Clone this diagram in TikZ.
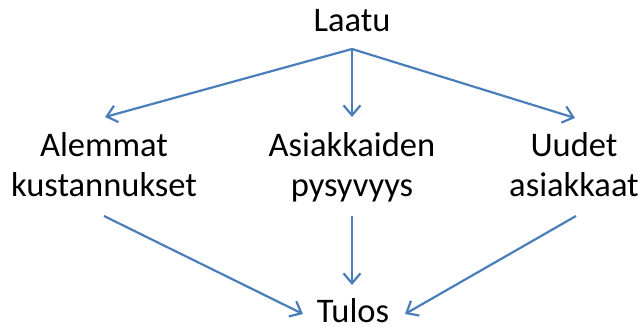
\documentclass[tikz,border=0pt]{standalone}
\usepackage{fontspec}
\setmainfont{Carlito}
\usetikzlibrary{arrows.meta}
\definecolor{arrowblue}{HTML}{4A7EBB}
\tikzset{
  x=1pt, y=1pt,
  lbl/.style={inner sep=0pt, anchor=base, align=center, font=\fontsize{34.5}{40}\selectfont, text=black},
  arr/.style={draw=arrowblue, line width=2.2pt, -{Straight Barb[length=10pt,width=17pt,line width=2.2pt]}}
}
\begin{document}
\begin{tikzpicture}
\useasboundingbox (0,0) rectangle (644,331);
\node[lbl] (laatu) at (352,299) {Laatu};
\node[lbl] (alemmat) at (104,134) {Alemmat\\kustannukset};
\node[lbl] (asiak) at (352,134) {Asiakkaiden\\pysyvyys};
\node[lbl] (uudet) at (574,134) {Uudet\\asiakkaat};
\node[lbl] (tulos) at (353,8) {Tulos};
\draw[arr] ([yshift=-17pt]laatu.base) -- ([xshift=1pt,yshift=80pt]alemmat.base);
\draw[arr] ([yshift=-17pt]laatu.base) -- ([yshift=80pt]asiak.base);
\draw[arr] ([yshift=-17pt]laatu.base) -- ([xshift=1pt,yshift=79pt]uudet.base);
\draw[arr] ([yshift=-19pt]alemmat.base) -- ([xshift=-50pt,yshift=9pt]tulos.base);
\draw[arr] ([yshift=-19pt]asiak.base) -- ([xshift=-1pt,yshift=38pt]tulos.base);
\draw[arr] ([xshift=2pt,yshift=-19pt]uudet.base) -- ([xshift=52pt,yshift=9pt]tulos.base);
\end{tikzpicture}
\end{document}
